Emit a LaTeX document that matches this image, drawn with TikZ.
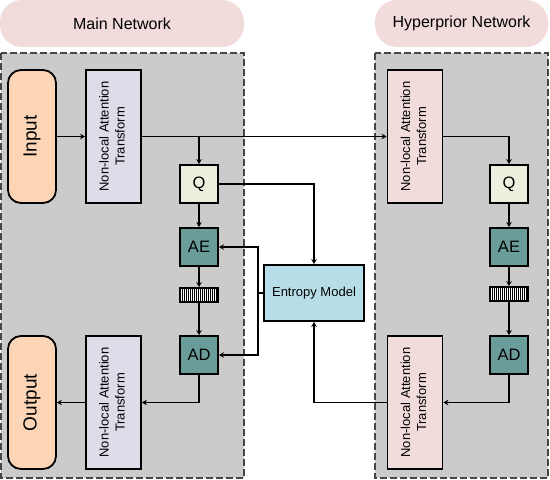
\documentclass[tikz,border=0pt]{standalone}
\usepackage{fontspec}
\setmainfont{Liberation Sans}
\usetikzlibrary{arrows.meta,positioning}
\definecolor{titlepink}{RGB}{242,220,219}
\definecolor{regiongray}{RGB}{203,203,203}
\definecolor{regionedge}{RGB}{70,70,70}
\definecolor{iopeach}{RGB}{251,213,181}
\definecolor{nlalilac}{RGB}{223,219,233}
\definecolor{nlapink}{RGB}{242,220,219}
\definecolor{qgreen}{RGB}{235,241,222}
\definecolor{coderteal}{RGB}{106,156,153}
\definecolor{emblue}{RGB}{183,222,232}
\tikzstyle{arrow} = [line width=1.9pt,-{Stealth[length=5pt,width=5.5pt]}]
\tikzstyle{block} = [rectangle, draw=black, line width=1.8pt, inner sep=0pt, align=center]
\tikzstyle{nla} = [block, minimum width=55pt, minimum height=133pt, font=\fontsize{13}{16}\selectfont]
\tikzstyle{io} = [block, rounded corners=13pt, minimum width=48pt, minimum height=133pt, fill=iopeach, font=\fontsize{19}{22}\selectfont]
\tikzstyle{coder} = [block, minimum width=38pt, minimum height=38pt, font=\fontsize{16.5}{18}\selectfont]
\tikzstyle{bits} = [rectangle, draw=black, line width=1.8pt, minimum width=38pt, minimum height=14pt, inner sep=0pt, fill=white,
  path picture={\foreach \i in {1,...,18} \draw[line width=0.9pt] ([xshift=\i*2pt]path picture bounding box.south west) -- ++(0,14pt);}]
\tikzstyle{region} = [draw=regionedge, line width=1.2pt, dash pattern=on 7pt off 3pt, fill=regiongray]
\tikzstyle{title} = [rectangle, rounded corners=22pt, fill=titlepink, minimum height=47pt, font=\fontsize{16}{18}\selectfont]
\newcommand{\nlatext}{\rotatebox{90}{\begin{tabular}{@{}c@{}}Non-local Attention\\Transform\end{tabular}}}

\begin{document}
\begin{tikzpicture}[x=1pt, y=-1pt]
\useasboundingbox (0,0) rectangle (550,480);

% Titles and regions
\node[title, minimum width=244pt] (mainlbl) at (122,23.5) {Main Network};
\node[title, minimum width=173pt] (hyperlbl) at (461.5,23.5) {Hyperprior Network};
\draw[region] (1,53) rectangle (244,478);
\draw[region] (375,53) rectangle (548,478);

% Main network
\node[io] (in) at (32,136.5) {\rotatebox{90}{Input}};
\node[nla, fill=nlalilac] (enc) at (113.5,136.5) {\nlatext};
\node[coder, fill=qgreen] (q1) at (199,184) {Q};
\node[coder, fill=coderteal] (ae1) at (199,247) {AE};
\node[bits] (bar1) at (199,295) {};
\node[coder, fill=coderteal] (ad1) at (199,355) {AD};
\node[nla, fill=nlalilac] (dec) at (113.5,402.5) {\nlatext};
\node[io] (out) at (32,402.5) {\rotatebox{90}{Output}};

% Entropy model
\node[block, fill=emblue, minimum width=100pt, minimum height=56pt, font=\fontsize{13}{15}\selectfont] (em) at (314,293) {Entropy Model};
\coordinate[left=5pt of em.west] (split);

% Hyperprior network
\node[nla, fill=nlapink] (henc) at (415,136.5) {\nlatext};
\node[coder, fill=qgreen] (q2) at (509,184) {Q};
\node[coder, fill=coderteal] (ae2) at (509,247) {AE};
\node[bits] (bar2) at (509,294) {};
\node[coder, fill=coderteal] (ad2) at (509,355) {AD};
\node[nla, fill=nlapink] (hdec) at (415,402.5) {\nlatext};

% Main connections
\coordinate (b1) at (q1 |- enc.east);
\draw[arrow] (in) -- (enc);
\draw[arrow] (enc.east) -- (henc.west);
\draw[arrow] (b1) -- (q1);
\draw[arrow] (q1) -- (ae1);
\draw[arrow] (ae1) -- (bar1);
\draw[arrow] (bar1) -- (ad1);
\draw[arrow] (ad1) |- (dec);
\draw[arrow] (dec) -- (out);

% Entropy connections
\draw[arrow] (q1.east) -| (em.north);
\draw[line width=1.9pt] (em.west) -- (split);
\draw[arrow] (split) |- (ae1.east);
\draw[arrow] (split) |- (ad1.east);
\draw[arrow] (hdec.west) -| (em.south);

% Hyperprior connections
\draw[arrow] (henc.east) -| (q2.north);
\draw[arrow] (q2) -- (ae2);
\draw[arrow] (ae2) -- (bar2);
\draw[arrow] (bar2) -- (ad2);
\draw[arrow] (ad2) |- (hdec);
\end{tikzpicture}
\end{document}
